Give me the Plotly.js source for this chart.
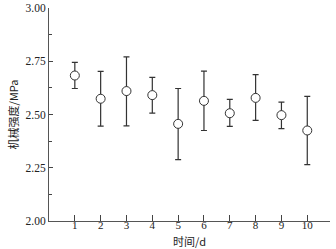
<!DOCTYPE html>
<html><head><meta charset="utf-8">
<script src="https://cdn.plot.ly/plotly-3.0.1.min.js"></script>
<style>html,body{margin:0;padding:0;background:#fff}#chart{width:336px;height:249px}</style>
</head><body><div id="chart"></div>
<script>
const days = [1, 2, 3, 4, 5, 6, 7, 8, 9, 10];
const strength = [2.683, 2.574, 2.610, 2.591, 2.456, 2.564, 2.506, 2.578, 2.497, 2.425];
const upperBound = [2.745, 2.702, 2.771, 2.674, 2.622, 2.704, 2.571, 2.687, 2.558, 2.585];
const lowerBound = [2.622, 2.445, 2.447, 2.506, 2.288, 2.425, 2.444, 2.472, 2.434, 2.265];
const yTicks = [2.00, 2.25, 2.50, 2.75, 3.00];
const yTickText = ['2.00', '2.25', '2.50', '2.75', '3.00'];
const xTitle = '时间/d';
const yTitle = '机械强度/MPa';

const errPlus = strength.map((v, i) => upperBound[i] - v);
const errMinus = strength.map((v, i) => v - lowerBound[i]);

const trace = {
  x: days, y: strength, type: 'scatter', mode: 'markers',
  marker: {symbol: 'circle', size: 9, color: '#fff', line: {width: 1, color: '#333'}},
  error_y: {type: 'data', symmetric: false, array: errPlus, arrayminus: errMinus,
            color: '#333', thickness: 1.2, width: 3}
};
const font = {family: 'Liberation Serif, Times New Roman, serif', size: 11.5, color: '#222'};
const xfont = {family: 'Liberation Serif, Times New Roman, serif', size: 11, color: '#222'};
const cjk = {family: 'Noto Sans CJK SC, Liberation Serif', size: 11, color: '#222'};
const layout = {
  width: 336, height: 249,
  margin: {l: 49, r: 6, t: 8, b: 28},
  paper_bgcolor: '#fff', plot_bgcolor: '#fff',
  showlegend: false,
  font: font,
  xaxis: {
    range: [0, 10.88], tickvals: days, ticktext: days.map(String),
    ticks: 'inside', ticklen: 6, tickcolor: '#444', tickwidth: 1,
    ticklabelstandoff: -6,
    showline: true, linecolor: '#555', linewidth: 1, showgrid: false, zeroline: false,
    tickfont: xfont, automargin: false
  },
  yaxis: {
    range: [2.0, 3.0], tickvals: yTicks, ticktext: yTickText,
    ticks: 'inside', ticklen: 4, tickcolor: '#444', tickwidth: 1,
    minor: {dtick: 0.125, tick0: 2.0, ticks: 'inside', ticklen: 3, tickcolor: '#444'},
    showline: true, linecolor: '#555', linewidth: 1, showgrid: false, zeroline: false,
    tickfont: font, automargin: false,
    title: {text: yTitle, font: cjk, standoff: 4}
  },
  annotations: [{
    text: xTitle, font: cjk, showarrow: false,
    xref: 'paper', yref: 'paper', x: 0.5, y: 0, xanchor: 'center', yanchor: 'middle', yshift: -20
  }]
};
Plotly.newPlot('chart', [trace], layout, {staticPlot: true, displayModeBar: false});
</script></body></html>
